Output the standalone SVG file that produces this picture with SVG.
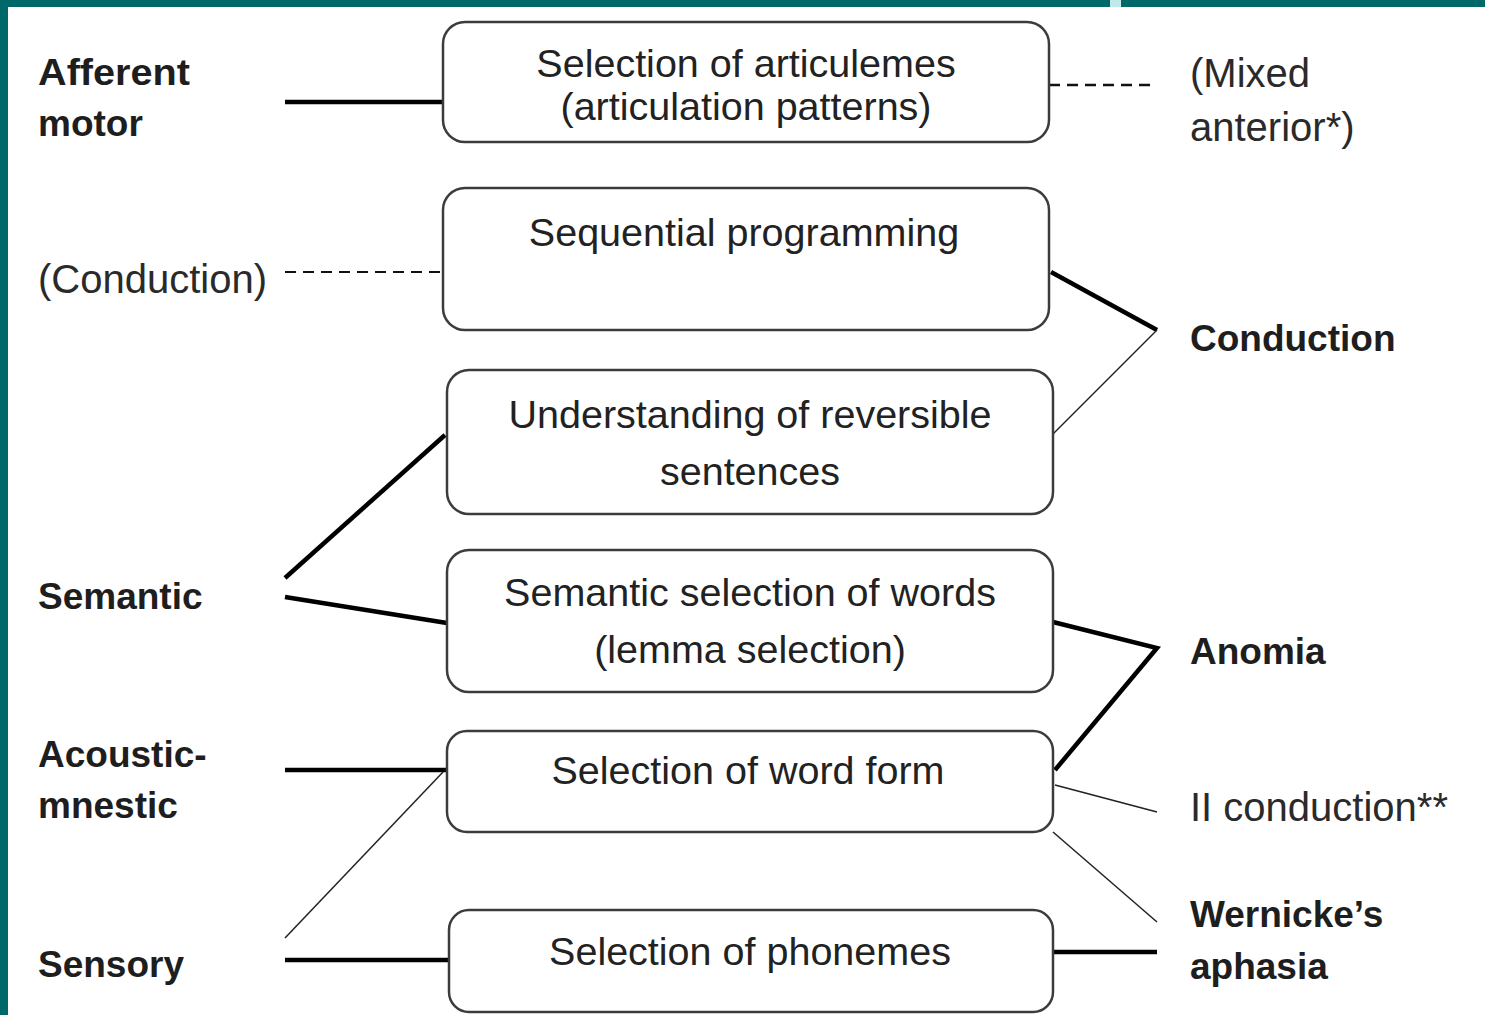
<svg xmlns="http://www.w3.org/2000/svg" width="1485" height="1015" viewBox="0 0 1485 1015">
<style>
.box{fill:#fff;stroke:#3c3c3c;stroke-width:2.5}
.t{font-family:"Liberation Sans",Arial,sans-serif;font-size:39.5px;fill:#222;text-anchor:middle}
.lb{font-family:"Liberation Sans",Arial,sans-serif;font-size:37px;fill:#1e1e1e;font-weight:bold}
.lr{font-family:"Liberation Sans",Arial,sans-serif;font-size:40px;fill:#2a2a2a}
.thick{stroke:#000;stroke-width:4.5;fill:none}
.thin{stroke:#222;stroke-width:1.5;fill:none}
.dash{stroke:#111;stroke-width:2.5;stroke-dasharray:11 7;fill:none}
</style>
<rect x="0" y="0" width="1485" height="1015" fill="#fff"/>
<rect x="0" y="0" width="1485" height="7" fill="#006868"/>
<rect x="0" y="0" width="8" height="1015" fill="#006868"/>
<rect x="1110" y="0" width="11" height="7" fill="#bfe9ea"/>

<g id="connectors">
<line class="thick" x1="285" y1="102" x2="443" y2="102"/>
<line class="dash" x1="285" y1="272" x2="443" y2="272" style="stroke-width:2"/>
<line class="dash" x1="1049" y1="85" x2="1152" y2="85"/>
<polyline class="thick" points="1051,272 1157,330"/>
<polyline class="thin" points="1157,330 1053,434"/>
<line class="thick" x1="285" y1="578" x2="445" y2="435"/>
<line class="thick" x1="285" y1="597" x2="447" y2="623"/>
<polyline class="thick" points="1053,622 1157,648 1055,770"/>
<line class="thick" x1="285" y1="770" x2="447" y2="770"/>
<line class="thin" x1="285" y1="938" x2="443" y2="772"/>
<line class="thick" x1="285" y1="960" x2="449" y2="960"/>
<line class="thin" x1="1055" y1="785" x2="1157" y2="812"/>
<line class="thin" x1="1053" y1="832" x2="1157" y2="922"/>
<line class="thick" x1="1053" y1="952" x2="1157" y2="952"/>
</g>

<g id="n1"><rect class="box" x="443" y="22" width="606" height="120" rx="22"/>
<text class="t" x="746" y="77">Selection of articulemes</text>
<text class="t" x="746" y="120">(articulation patterns)</text></g>
<g id="n2"><rect class="box" x="443" y="188" width="606" height="142" rx="22"/>
<text class="t" x="744" y="246">Sequential programming</text></g>
<g id="n3"><rect class="box" x="447" y="370" width="606" height="144" rx="22"/>
<text class="t" x="750" y="428">Understanding of reversible</text>
<text class="t" x="750" y="485">sentences</text></g>
<g id="n4"><rect class="box" x="447" y="550" width="606" height="142" rx="22"/>
<text class="t" x="750" y="606">Semantic selection of words</text>
<text class="t" x="750" y="663">(lemma selection)</text></g>
<g id="n5"><rect class="box" x="447" y="731" width="606" height="101" rx="20"/>
<text class="t" x="748" y="784">Selection of word form</text></g>
<g id="n6"><rect class="box" x="449" y="910" width="604" height="102" rx="20"/>
<text class="t" x="750" y="965">Selection of phonemes</text></g>

<g id="left-labels">
<text class="lb" x="38" y="85" textLength="152" lengthAdjust="spacingAndGlyphs">Afferent</text>
<text class="lb" x="38" y="136">motor</text>
<text class="lr" x="38" y="293">(Conduction)</text>
<text class="lb" x="38" y="609">Semantic</text>
<text class="lb" x="38" y="767">Acoustic-</text>
<text class="lb" x="38" y="818">mnestic</text>
<text class="lb" x="38" y="977">Sensory</text>
</g>
<g id="right-labels">
<text class="lr" x="1190" y="87">(Mixed</text>
<text class="lr" x="1190" y="141">anterior*)</text>
<text class="lb" x="1190" y="351">Conduction</text>
<text class="lb" x="1190" y="664">Anomia</text>
<text class="lr" x="1190" y="821">II conduction**</text>
<text class="lb" x="1190" y="927">Wernicke’s</text>
<text class="lb" x="1190" y="979">aphasia</text>
</g>
</svg>
